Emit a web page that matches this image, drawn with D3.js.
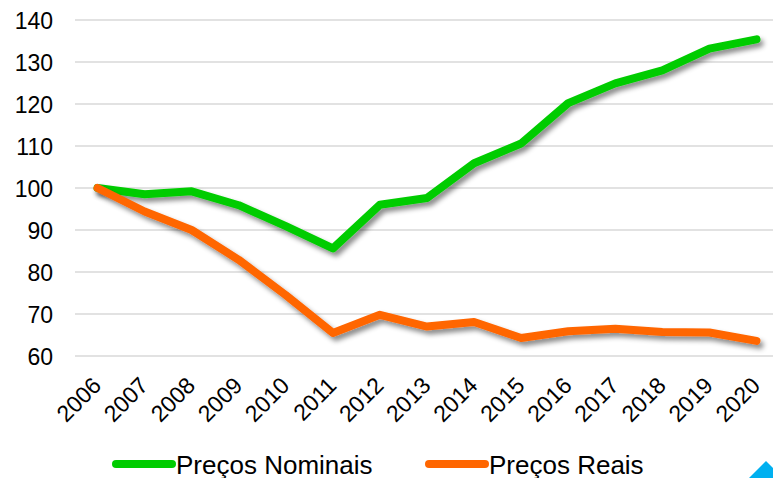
<!DOCTYPE html>
<html>
<head>
<meta charset="utf-8">
<script src="https://cdn.jsdelivr.net/npm/d3@7"></script>
<style>
  html, body { margin: 0; padding: 0; background: #fff; }
  svg { display: block; font-family: "Liberation Sans", Arial, sans-serif; }
</style>
</head>
<body>
<svg id="chart" width="773" height="478"></svg>
<script>
const years = ["2006","2007","2008","2009","2010","2011","2012","2013","2014","2015","2016","2017","2018","2019","2020"];
const nominais = [100, 98.5, 99.2, 95.9, 90.9, 85.6, 96.0, 97.6, 105.9, 110.6, 120.2, 124.9, 128.0, 133.2, 135.4];
const reais = [100, 94.4, 90.0, 82.9, 74.5, 65.5, 69.8, 67.0, 68.1, 64.3, 65.9, 66.5, 65.7, 65.6, 63.6];
const yTicks = [60, 70, 80, 90, 100, 110, 120, 130, 140];
const seriesNames = ["Preços Nominais", "Preços Reais"];
const seriesColors = ["#00CC00", "#FF6600"];

const svg = d3.select("#chart");
const x = d3.scalePoint().domain(years).range([74, 780]).padding(0.5);
const y = d3.scaleLinear().domain([60, 140]).range([356, 20]);

const defs = svg.append("defs");
const f = defs.append("filter").attr("id", "shadow")
  .attr("x", "-10%").attr("y", "-20%").attr("width", "130%").attr("height", "160%");
f.append("feDropShadow").attr("dx", 3).attr("dy", 4).attr("stdDeviation", 2.5)
  .attr("flood-color", "#000").attr("flood-opacity", 0.45);

// gridlines
svg.append("g").selectAll("line").data(yTicks).join("line")
  .attr("x1", 75).attr("x2", 773)
  .attr("y1", d => y(d)).attr("y2", d => y(d))
  .attr("stroke", "#d9d9d9").attr("stroke-width", 1.5);

// y axis
const yAxis = svg.append("g").attr("transform", "translate(53,0)")
  .call(d3.axisLeft(y).tickValues(yTicks).tickSize(0).tickPadding(0));
yAxis.select(".domain").remove();
yAxis.selectAll("text").attr("font-size", 23).attr("fill", "#000")
  .attr("font-family", "Liberation Sans, Arial, sans-serif").attr("dy", "0.36em");

// x axis
const xAxis = svg.append("g")
  .call(d3.axisBottom(x).tickSize(0).tickPadding(0));
xAxis.select(".domain").remove();
xAxis.selectAll(".tick").attr("transform", d => `translate(${x(d) + 5},387)`);
xAxis.selectAll("text")
  .attr("font-size", 23).attr("fill", "#000")
  .attr("font-family", "Liberation Sans, Arial, sans-serif")
  .attr("text-anchor", "end").attr("dy", 0).attr("y", 0)
  .attr("transform", "rotate(-45)");

// lines
const line = d3.line().x((d, i) => x(years[i])).y(d => y(d));
const allSeries = [nominais, reais];
svg.append("g").selectAll("path").data(allSeries).join("path")
  .attr("d", d => line(d))
  .attr("fill", "none")
  .attr("stroke", (d, i) => seriesColors[i])
  .attr("stroke-width", 8)
  .attr("stroke-linejoin", "round")
  .attr("stroke-linecap", "round")
  .attr("filter", "url(#shadow)");

// legend
const legendX = [116, 429];
const lg = svg.append("g").selectAll("g").data(seriesNames).join("g")
  .attr("transform", (d, i) => `translate(${legendX[i]},464)`);
lg.append("line").attr("x1", 0).attr("x2", 56).attr("y1", 0).attr("y2", 0)
  .attr("stroke", (d, i) => seriesColors[i]).attr("stroke-width", 8)
  .attr("stroke-linecap", "round");
lg.append("text").attr("x", 60).attr("y", 9.5)
  .attr("font-size", 26).attr("fill", "#000")
  .text(d => d);

// decorative triangle bottom-right
svg.append("path")
  .attr("d", d3.line()([[749, 478], [766, 461], [783, 478]]))
  .attr("fill", "#00B0F0");
</script>
</body>
</html>
